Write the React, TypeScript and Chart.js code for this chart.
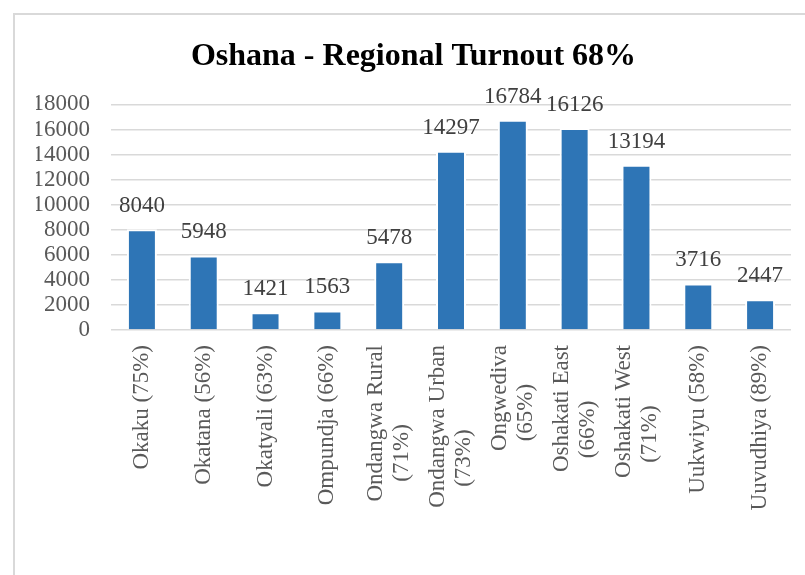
import { useEffect, useRef } from "react";
import { Chart, registerables } from "chart.js";

Chart.register(...registerables);

const chartTitle = "Oshana - Regional Turnout 68%";
const constituencies: string[][] = [
  ["Okaku (75%)"],
  ["Okatana (56%)"],
  ["Okatyali (63%)"],
  ["Ompundja (66%)"],
  ["Ondangwa Rural", "(71%)"],
  ["Ondangwa Urban", "(73%)"],
  ["Ongwediva", "(65%)"],
  ["Oshakati East", "(66%)"],
  ["Oshakati West", "(71%)"],
  ["Uukwiyu (58%)"],
  ["Uuvudhiya (89%)"],
];
const votesCast = [8040, 5948, 1421, 1563, 5478, 14297, 16784, 16126, 13194, 3716, 2447];
const yMin = 0;
const yMax = 18000;
const yStep = 2000;

const FONT = "'Liberation Serif', 'Times New Roman', Times, serif";

export default function App() {
  const ref = useRef<HTMLCanvasElement>(null);

  useEffect(() => {
    const canvas = ref.current;
    if (!canvas) return;

    const valueLabels = {
      id: "valueLabels",
      afterDatasetsDraw(chart: any) {
        const ctx = chart.ctx;
        const meta = chart.getDatasetMeta(0);
        ctx.save();
        ctx.font = `23px ${FONT}`;
        ctx.fillStyle = "#404040";
        ctx.textAlign = "center";
        ctx.textBaseline = "alphabetic";
        meta.data.forEach((bar: any, i: number) => {
          ctx.fillText(String(votesCast[i]), bar.x, bar.y - 17);
        });
        ctx.restore();
      },
    };

    const categoryLabels = {
      id: "categoryLabels",
      afterDraw(chart: any) {
        const ctx = chart.ctx;
        const xs = chart.scales.x;
        const top = chart.chartArea.bottom + 15;
        const lh = 26;
        ctx.save();
        ctx.font = `23px ${FONT}`;
        ctx.fillStyle = "#595959";
        ctx.textBaseline = "middle";
        ctx.textAlign = "right";
        constituencies.forEach((lines, i) => {
          const x = xs.getPixelForTick(i);
          const w0 = ctx.measureText(lines[0]).width;
          ctx.save();
          ctx.translate(x, top);
          ctx.rotate(-Math.PI / 2);
          lines.forEach((line, j) => {
            const w = ctx.measureText(line).width;
            const off = (w0 - w) * 0.8;
            const yy = (j - (lines.length - 1) / 2) * lh;
            ctx.fillText(line, -off, yy);
          });
          ctx.restore();
        });
        ctx.restore();
      },
    };

    const chart = new Chart(canvas, {
      type: "bar",
      data: {
        labels: constituencies.map((l) => l.join(" ")),
        datasets: [
          {
            data: votesCast,
            backgroundColor: "#2E75B6",
            borderColor: "#FFFFFF",
            borderWidth: 2,
            categoryPercentage: 1,
            barPercentage: 0.485,
          },
        ],
      },
      options: {
        responsive: false,
        animation: false,
        layout: { padding: { top: 28, right: 14, bottom: 0, left: 36 } },
        plugins: {
          legend: { display: false },
          tooltip: { enabled: false },
          title: {
            display: true,
            text: chartTitle,
            color: "#000000",
            font: { family: FONT, size: 32, weight: "bold" },
            padding: { top: 10, bottom: 28 },
          },
        },
        scales: {
          x: {
            grid: { display: false },
            border: { display: false },
            ticks: { display: false },
            afterFit: (s: any) => {
              s.height = 245;
            },
          },
          y: {
            min: yMin,
            max: yMax,
            ticks: {
              stepSize: yStep,
              autoSkip: false,
              color: "#595959",
              font: { family: FONT, size: 23 },
              padding: 21,
              callback: (v: any) => String(v),
            },
            grid: { color: "#D9D9D9", lineWidth: 1.5, drawTicks: false },
            border: { display: false },
            afterFit: (s: any) => {
              s.width = 75;
            },
          },
        },
      },
      plugins: [valueLabels, categoryLabels],
    } as any);

    return () => chart.destroy();
  }, []);

  return (
    <>
      <div
        style={{
          position: "absolute",
          left: 13,
          top: 13,
          width: 792,
          height: 562,
          borderTop: "2px solid #D9D9D9",
          borderLeft: "2px solid #D9D9D9",
          boxSizing: "border-box",
          background: "#FFFFFF",
        }}
      />
      <canvas
        ref={ref}
        width={805}
        height={575}
        style={{ position: "absolute", left: 0, top: 0, width: 805, height: 575 }}
      />
    </>
  );
}
